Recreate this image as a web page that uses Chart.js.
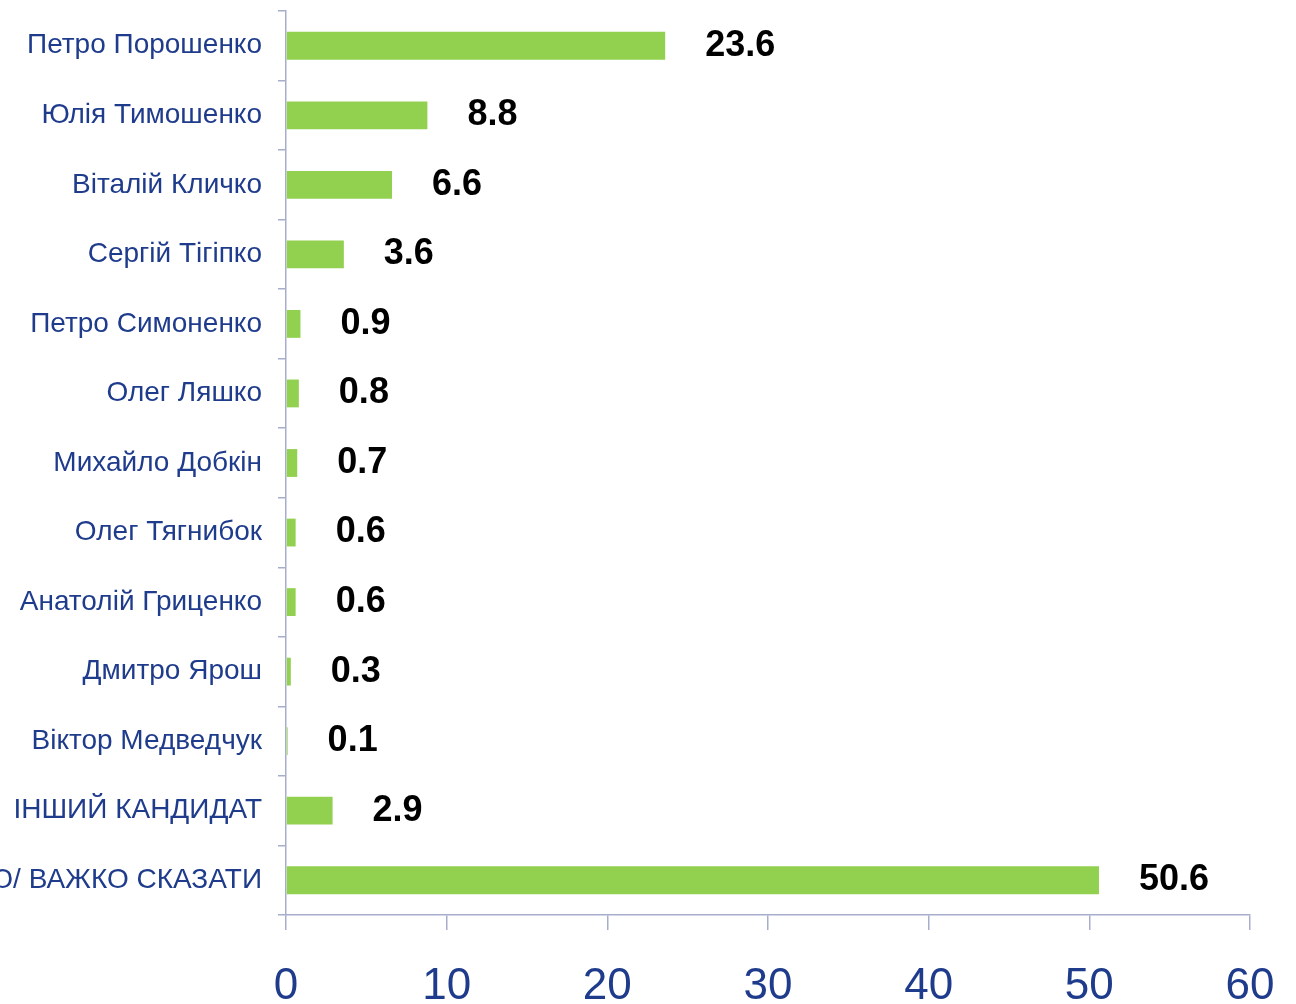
<!DOCTYPE html>
<html>
<head>
<meta charset="utf-8">
<script src="https://cdn.jsdelivr.net/npm/chart.js@4.4.0/dist/chart.umd.min.js"></script>
<style>
  html, body { margin: 0; padding: 0; background: #fff; }
  #wrap { width: 1296px; height: 1004px; }
</style>
</head>
<body>
<div id="wrap"><canvas id="chart" width="1296" height="1004"></canvas></div>
<script>
// Кандидати та відсотки
const candidates = [
  'Петро Порошенко',
  'Юлія Тимошенко',
  'Віталій Кличко',
  'Сергій Тігіпко',
  'Петро Симоненко',
  'Олег Ляшко',
  'Михайло Добкін',
  'Олег Тягнибок',
  'Анатолій Гриценко',
  'Дмитро Ярош',
  'Віктор Медведчук',
  'ІНШИЙ КАНДИДАТ',
  'НЕ ЗНАЮ/ ВАЖКО СКАЗАТИ'
];
const percents = [23.6, 8.8, 6.6, 3.6, 0.9, 0.8, 0.7, 0.6, 0.6, 0.3, 0.1, 2.9, 50.6];
const xTicks = [0, 10, 20, 30, 40, 50, 60];

const axisColor = '#a7aecb';
const textBlue = '#1f3c8c';

// підписи значень праворуч від смуг
const valueLabels = {
  id: 'valueLabels',
  afterDatasetsDraw(chart) {
    const ctx = chart.ctx;
    const meta = chart.getDatasetMeta(0);
    ctx.save();
    ctx.font = 'bold 36px "Liberation Sans", Arial, sans-serif';
    ctx.fillStyle = '#000';
    ctx.textAlign = 'left';
    ctx.textBaseline = 'middle';
    meta.data.forEach((bar, i) => {
      ctx.fillText(percents[i].toFixed(1), bar.x + 40, bar.y);
    });
    ctx.restore();
  }
};

const ctx = document.getElementById('chart').getContext('2d');
new Chart(ctx, {
  type: 'bar',
  data: {
    labels: candidates,
    datasets: [{
      data: percents,
      backgroundColor: '#92d050',
      borderWidth: 0,
      categoryPercentage: 0.8,
      barPercentage: 0.5
    }]
  },
  options: {
    indexAxis: 'y',
    responsive: false,
    animation: false,
    layout: { padding: { top: 11, right: 46, left: 0, bottom: 0 } },
    plugins: {
      legend: { display: false },
      tooltip: { enabled: false }
    },
    scales: {
      x: {
        min: 0,
        max: 60,
        afterBuildTicks: (scale) => { scale.ticks = xTicks.map(v => ({ value: v })); },
        afterFit: (scale) => {
          scale.height = 89;
          scale.paddingLeft = 0;
          scale.paddingRight = 0;
        },
        border: { color: axisColor, width: 1.5 },
        grid: { drawOnChartArea: false, tickLength: 15, color: axisColor, lineWidth: 1.5 },
        ticks: {
          color: textBlue,
          padding: 30,
          font: { family: '"Liberation Sans", Arial, sans-serif', size: 44 }
        }
      },
      y: {
        afterFit: (scale) => {
          scale.width = 286;
          scale.paddingTop = 0;
          scale.paddingBottom = 0;
        },
        border: { color: axisColor, width: 1.5 },
        grid: { drawOnChartArea: false, tickLength: 8, color: axisColor, lineWidth: 1.5 },
        ticks: {
          color: textBlue,
          padding: 16,
          autoSkip: false,
          font: { family: '"Liberation Sans", Arial, sans-serif', size: 28 }
        }
      }
    }
  },
  plugins: [valueLabels]
});
</script>
</body>
</html>
